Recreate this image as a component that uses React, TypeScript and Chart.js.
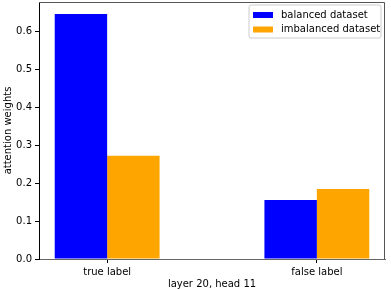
import React, { useEffect, useRef } from "react";
import { Chart, registerables } from "chart.js";

Chart.register(...registerables);

const categories = ["true label", "false label"];
const categoryPositions = [0, 1];
const balancedValues = [0.647, 0.156];
const imbalancedValues = [0.273, 0.185];
const seriesLabels = ["balanced dataset", "imbalanced dataset"];
const seriesColors = ["#0000ff", "#ffa500"];
const yTicks = [0, 0.1, 0.2, 0.3, 0.4, 0.5, 0.6];
const xTitle = "layer 20, head 11";
const yTitle = "attention weights";

const FONT = "DejaVu Sans";

const framePlugin = {
  id: "frame",
  afterDatasetsDraw(chart: any) {
    const { ctx, chartArea } = chart;
    const l = Math.round(chartArea.left);
    const t = Math.round(chartArea.top) + 0.5;
    const r = Math.round(chartArea.right) - 0.5;
    const b = Math.round(chartArea.bottom);
    ctx.save();
    ctx.strokeStyle = "#555";
    ctx.lineWidth = 1;
    ctx.beginPath();
    ctx.moveTo(l, t);
    ctx.lineTo(r, t);
    ctx.lineTo(r, b);
    ctx.stroke();
    ctx.restore();
  },
  afterDraw(chart: any) {
    const { ctx, chartArea } = chart;
    const w = 132;
    const h = 33;
    const x = chartArea.right - 4 - w;
    const y = chartArea.top + 3;
    ctx.save();
    ctx.fillStyle = "rgba(255,255,255,0.8)";
    ctx.strokeStyle = "#cccccc";
    ctx.lineWidth = 1;
    const r = 2;
    ctx.beginPath();
    ctx.moveTo(x + r, y);
    ctx.lineTo(x + w - r, y);
    ctx.quadraticCurveTo(x + w, y, x + w, y + r);
    ctx.lineTo(x + w, y + h - r);
    ctx.quadraticCurveTo(x + w, y + h, x + w - r, y + h);
    ctx.lineTo(x + r, y + h);
    ctx.quadraticCurveTo(x, y + h, x, y + h - r);
    ctx.lineTo(x, y + r);
    ctx.quadraticCurveTo(x, y, x + r, y);
    ctx.closePath();
    ctx.fill();
    ctx.stroke();
    ctx.font = `10px "${FONT}"`;
    ctx.textBaseline = "middle";
    chart.data.datasets.forEach((ds: any, i: number) => {
      const cy = y + 10 + i * 14.5;
      ctx.fillStyle = ds.backgroundColor;
      ctx.fillRect(x + 4, cy - 3, 20, 6);
      ctx.fillStyle = "#000";
      ctx.fillText(ds.label, x + 32, cy);
    });
    ctx.restore();
  },
};

export default function App() {
  const canvasRef = useRef<HTMLCanvasElement | null>(null);

  useEffect(() => {
    document.body.style.margin = "0";
    const canvas = canvasRef.current;
    if (!canvas) return;
    const makeData = (vals: number[]) =>
      vals.map((v, i) => ({ x: categoryPositions[i], y: v }));
    const chart = new Chart(canvas, {
      type: "bar",
      data: {
        datasets: [
          {
            label: seriesLabels[0],
            data: makeData(balancedValues),
            backgroundColor: seriesColors[0],
            categoryPercentage: 0.5,
            barPercentage: 1,
          },
          {
            label: seriesLabels[1],
            data: makeData(imbalancedValues),
            backgroundColor: seriesColors[1],
            categoryPercentage: 0.5,
            barPercentage: 1,
          },
        ] as any,
      },
      plugins: [framePlugin],
      options: {
        animation: false,
        responsive: false,
        maintainAspectRatio: false,
        layout: { padding: { left: 0, top: 2, right: 6, bottom: 0 } },
        plugins: {
          legend: { display: false },
          tooltip: { enabled: false },
        },
        scales: {
          x: {
            type: "linear",
            offset: false,
            min: -0.325,
            max: 1.325,
            afterBuildTicks: (scale: any) => {
              scale.ticks = categoryPositions.map((v) => ({ value: v }));
            },
            afterFit: (scale: any) => {
              scale.height = 30;
              scale.paddingLeft = 0;
              scale.paddingRight = 0;
            },
            ticks: {
              autoSkip: false,
              maxRotation: 0,
              padding: 3,
              color: "#000",
              font: { family: FONT, size: 10 },
              callback: (v: any) => {
                const idx = categoryPositions.indexOf(Number(v));
                return idx >= 0 ? categories[idx] : "";
              },
            },
            grid: {
              offset: false,
              drawOnChartArea: false,
              drawTicks: true,
              tickLength: 4,
              color: "#000",
            },
            border: { display: true, color: "#666" },
            title: {
              display: true,
              text: xTitle,
              color: "#000",
              font: { family: FONT, size: 10, lineHeight: 1 },
              padding: { top: 0, bottom: 0 },
            },
          },
          y: {
            type: "linear",
            min: 0,
            max: 0.679,
            afterBuildTicks: (scale: any) => {
              scale.ticks = yTicks.map((v) => ({ value: v }));
            },
            afterFit: (scale: any) => {
              scale.width = 39;
              scale.paddingTop = 0;
              scale.paddingBottom = 0;
            },
            ticks: {
              padding: 3,
              color: "#000",
              font: { family: FONT, size: 10 },
              callback: (v: any) => Number(v).toFixed(1),
            },
            grid: {
              drawOnChartArea: false,
              drawTicks: true,
              tickLength: 4,
              color: "#000",
            },
            border: { display: true, color: "#000" },
            title: {
              display: true,
              text: yTitle,
              color: "#000",
              font: { family: FONT, size: 10 },
              padding: { top: 2, bottom: 0 },
            },
          },
        },
      } as any,
    });
    return () => chart.destroy();
  }, []);

  return (
    <div style={{ position: "absolute", left: 0, top: 0, width: 391, height: 289 }}>
      <canvas ref={canvasRef} width={391} height={289} style={{ display: "block", width: 391, height: 289 }} />
    </div>
  );
}
